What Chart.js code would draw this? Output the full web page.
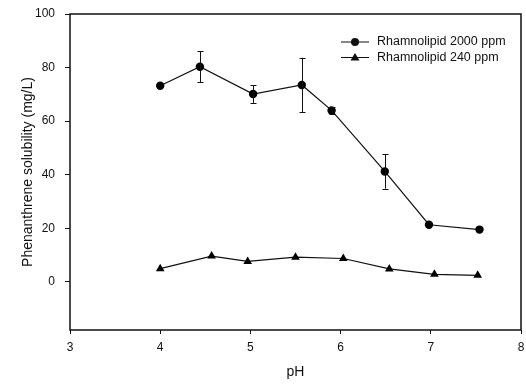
<!DOCTYPE html>
<html><head><meta charset="utf-8">
<script src="https://cdn.jsdelivr.net/npm/chart.js@4.4.1/dist/chart.umd.min.js"></script>
<style>html,body{margin:0;padding:0;background:#fff}#wrap{width:526px;height:385px}</style>
</head><body><div id="wrap"><canvas id="c" width="526" height="385"></canvas></div>
<script>
const seriesNames = ["Rhamnolipid 2000 ppm", "Rhamnolipid 240 ppm"];
const ph2000 = [4.0, 4.44, 5.03, 5.57, 5.9, 6.49, 6.98, 7.54];
const sol2000 = [73.2, 80.3, 70.1, 73.5, 64.0, 41.2, 21.3, 19.5];
const err2000 = [0, 5.8, 3.3, 10.2, 1.2, 6.4, 0, 0];
const ph240 = [4.0, 4.57, 4.97, 5.5, 6.03, 6.54, 7.04, 7.52];
const sol240 = [4.9, 9.6, 7.6, 9.2, 8.7, 4.8, 2.8, 2.4];
const xTicks = [3, 4, 5, 6, 7, 8];
const yTicks = [0, 20, 40, 60, 80, 100];
const xTitle = "pH";
const yTitle = "Phenanthrene solubility (mg/L)";

const FONT = "'Liberation Sans', Arial, sans-serif";

const errorBars = {
  id: 'errorBars',
  afterDatasetsDraw(chart) {
    const ctx = chart.ctx, xs = chart.scales.x, ys = chart.scales.y;
    ctx.save();
    ctx.strokeStyle = '#111';
    ctx.lineWidth = 1;
    ph2000.forEach((p, i) => {
      const e = err2000[i];
      if (!e) return;
      const x = Math.round(xs.getPixelForValue(p)) + 0.5;
      const y1 = ys.getPixelForValue(sol2000[i] + e);
      const y2 = ys.getPixelForValue(sol2000[i] - e);
      ctx.beginPath();
      ctx.moveTo(x, y1); ctx.lineTo(x, y2);
      ctx.moveTo(x - 3, Math.round(y1) + 0.5); ctx.lineTo(x + 3, Math.round(y1) + 0.5);
      ctx.moveTo(x - 3, Math.round(y2) + 0.5); ctx.lineTo(x + 3, Math.round(y2) + 0.5);
      ctx.stroke();
    });
    ctx.restore();
  }
};

const frame = {
  id: 'frame',
  afterDraw(chart) {
    const {ctx, chartArea: a} = chart;
    ctx.save();
    ctx.strokeStyle = '#111';
    ctx.lineWidth = 1.5;
    ctx.strokeRect(a.left, a.top, a.right - a.left, a.bottom - a.top);
    ctx.restore();
  }
};

const legendPlugin = {
  id: 'customLegend',
  afterDraw(chart) {
    const ctx = chart.ctx;
    ctx.save();
    ctx.font = "12.5px " + FONT;
    ctx.textBaseline = 'middle';
    ctx.fillStyle = '#111';
    ctx.strokeStyle = '#111';
    ctx.lineWidth = 1;
    chart.data.datasets.forEach((ds, i) => {
      const y = 42 + i * 15.5;
      ctx.beginPath();
      ctx.moveTo(341, y); ctx.lineTo(369, y); ctx.stroke();
      ctx.beginPath();
      if (i === 0) {
        ctx.arc(355, y, 4, 0, Math.PI * 2);
      } else {
        ctx.moveTo(355, y - 4.5); ctx.lineTo(359.5, y + 3); ctx.lineTo(350.5, y + 3); ctx.closePath();
      }
      ctx.fill();
      ctx.fillText(ds.label, 377, y);
    });
    ctx.restore();
  }
};

new Chart(document.getElementById('c'), {
  type: 'scatter',
  data: {
    datasets: [
      {
        label: seriesNames[0],
        data: ph2000.map((x, i) => ({x, y: sol2000[i]})),
        showLine: true, borderColor: '#111', borderWidth: 1.2,
        pointStyle: 'circle', pointRadius: 4.2, pointBackgroundColor: '#000', pointBorderColor: '#000',
        pointBorderWidth: 0
      },
      {
        label: seriesNames[1],
        data: ph240.map((x, i) => ({x, y: sol240[i]})),
        showLine: true, borderColor: '#111', borderWidth: 1.2,
        pointStyle: 'triangle', pointRadius: 5, pointBackgroundColor: '#000', pointBorderColor: '#000',
        pointBorderWidth: 0
      }
    ]
  },
  options: {
    responsive: false,
    animation: false,
    devicePixelRatio: 1,
    layout: {padding: {top: 14, right: 4, left: 0, bottom: 0}},
    plugins: {legend: {display: false}, tooltip: {enabled: false}},
    scales: {
      x: {
        type: 'linear', min: 3, max: 8,
        afterBuildTicks(s) { s.ticks = xTicks.map(v => ({value: v})); },
        afterFit(s) { s.height = 55; s.paddingLeft = 0; s.paddingRight = 0; },
        grid: {display: true, drawOnChartArea: false, drawTicks: true, tickLength: 4, tickColor: '#111'},
        border: {display: false},
        ticks: {color: '#111', font: {family: FONT, size: 12}, padding: 6, maxRotation: 0},
        title: {display: true, text: xTitle, color: '#111', font: {family: FONT, size: 14}, padding: {top: 6}}
      },
      y: {
        type: 'linear', min: -18, max: 100,
        afterBuildTicks(s) { s.ticks = yTicks.map(v => ({value: v})); },
        afterFit(s) { s.width = 70; s.paddingTop = 0; s.paddingBottom = 0; },
        grid: {display: true, drawOnChartArea: false, drawTicks: true, tickLength: 5, tickColor: '#111'},
        border: {display: false},
        ticks: {color: '#111', font: {family: FONT, size: 12}, padding: 10},
        title: {display: true, text: yTitle, color: '#111', font: {family: FONT, size: 14}, padding: {top: 20, bottom: 4}}
      }
    }
  },
  plugins: [errorBars, frame, legendPlugin]
});
</script>
</body></html>
